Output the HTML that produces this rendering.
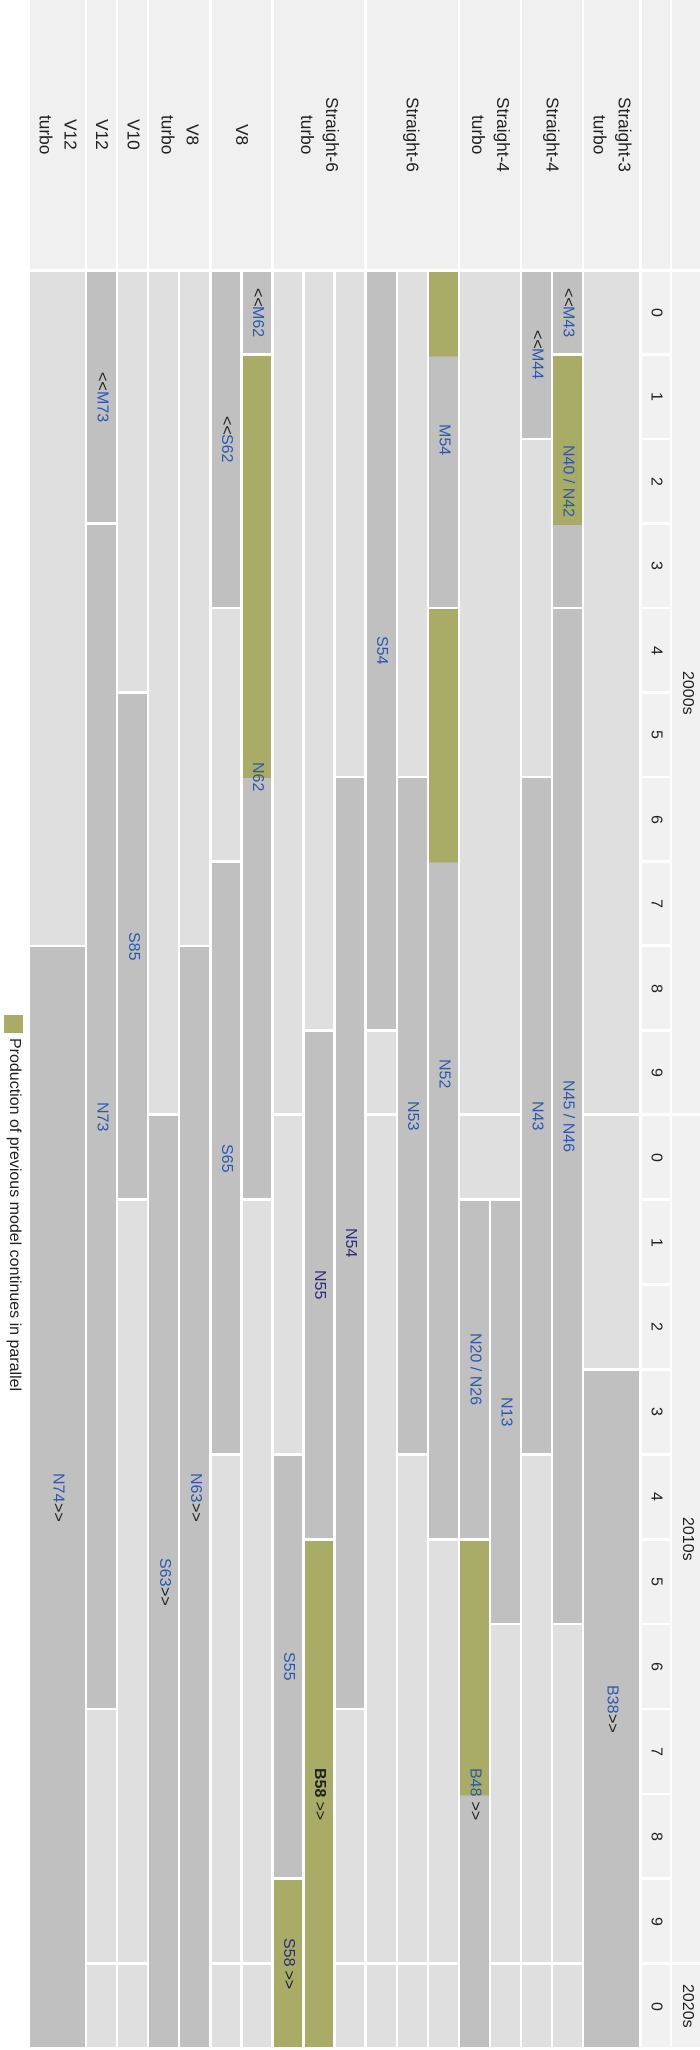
<!DOCTYPE html>
<html><head><meta charset="utf-8">
<style>
html,body{margin:0;padding:0;background:#fff;}
body{width:700px;height:2050px;position:relative;overflow:hidden;font-family:"Liberation Sans",Arial,sans-serif;}
.c{position:absolute;display:flex;align-items:center;justify-content:center;writing-mode:vertical-rl;white-space:nowrap;font-size:16px;line-height:20px;color:#202122;box-sizing:border-box;}
.L{background:#dfdfdf}
.D{background:#c0c0c0}
.O{background:#a8ac66}
.H{background:#f0f0f0;line-height:25px;text-align:center;font-size:17.3px}
.Y{background:#f1f1f1}
.b{color:#2a58ad}
.v{color:#2b2b7a}
.vt{left:30px;width:55px}
.k0{left:87.3px;width:28.8px}
.k1{left:118.35px;width:28.8px}
.k2{left:149.4px;width:28.8px}
.k3{left:180.45px;width:28.8px}
.k4{left:211.5px;width:28.8px}
.k5{left:242.55px;width:28.8px}
.k6{left:273.6px;width:28.8px}
.k7{left:304.65px;width:28.8px}
.k8{left:335.7px;width:28.8px}
.k9{left:366.75px;width:28.8px}
.k10{left:397.8px;width:28.8px}
.k11{left:428.85px;width:28.8px}
.k12{left:459.9px;width:28.8px}
.k13{left:490.95px;width:28.8px}
.k14{left:522px;width:28.8px}
.k15{left:553.05px;width:28.8px}
.s4t{left:459.9px;width:59.85px}
.s3t{left:584.1px;width:55px}
.yr{left:641.5px;width:28px}
.dc{left:672px;width:30px}
.lg{position:absolute;left:4px;top:1015px;width:19px;height:18px;background:#a8ac66}
.lt{position:absolute;left:2px;top:1038px;width:24px;writing-mode:vertical-rl;white-space:nowrap;font-size:16px;line-height:24px;color:#202122}
</style></head><body>

<!-- Header cells -->
<div class="c H vt" style="top:0;height:269px">V12<br>turbo</div>
<div class="c H k0" style="top:0;height:269px">V12</div>
<div class="c H k1" style="top:0;height:269px">V10</div>
<div class="c H" style="left:149.4px;width:59.85px;top:0;height:269px">V8<br>turbo</div>
<div class="c H" style="left:211.5px;width:59.85px;top:0;height:269px">V8</div>
<div class="c H" style="left:273.6px;width:90.9px;top:0;height:269px">Straight-6<br>turbo</div>
<div class="c H" style="left:366.75px;width:90.9px;top:0;height:269px">Straight-6</div>
<div class="c H s4t" style="top:0;height:269px">Straight-4<br>turbo</div>
<div class="c H" style="left:522px;width:59.85px;top:0;height:269px">Straight-4</div>
<div class="c H s3t" style="top:0;height:269px">Straight-3<br>turbo</div>
<div class="c H yr" style="top:0;height:269px"></div>
<div class="c H dc" style="top:0;height:269px"></div>

<!-- V12 turbo -->
<div class="c L vt" style="top:271.5px;height:673px"></div>
<div class="c D vt" style="top:947.1px;height:1100.2px"><span class="b">N74</span>&gt;&gt;</div>

<!-- V12 -->
<div class="c D k0" style="top:271.5px;height:250.8px">&lt;&lt;<span class="b">M73</span></div>
<div class="c D k0" style="top:524.9px;height:1182.8px"><span class="b">N73</span></div>
<div class="c L k0" style="top:1710.3px;height:252.1px"></div>
<div class="c L k0" style="top:1965px;height:82.3px"></div>

<!-- V10 -->
<div class="c L k1" style="top:271.5px;height:419.7px"></div>
<div class="c D k1" style="top:693.8px;height:504.5px"><span class="b">S85</span></div>
<div class="c L k1" style="top:1200.9px;height:761.5px"></div>
<div class="c L k1" style="top:1965px;height:82.3px"></div>

<!-- V8 turbo 1 -->
<div class="c L k2" style="top:271.5px;height:841.9px"></div>
<div class="c D k2" style="top:1116px;height:931.3px"><span class="b">S63</span>&gt;&gt;</div>

<!-- V8 turbo 2 -->
<div class="c L k3" style="top:271.5px;height:673px"></div>
<div class="c D k3" style="top:947.1px;height:1100.2px"><span class="b">N63</span>&gt;&gt;</div>

<!-- V8 1 -->
<div class="c D k4" style="top:271.5px;height:335.2px">&lt;&lt;<span class="b">S62</span></div>
<div class="c L k4" style="top:609.3px;height:250.8px"></div>
<div class="c D k4" style="top:862.7px;height:590.3px"><span class="b">S65</span></div>
<div class="c L k4" style="top:1455.6px;height:506.8px"></div>
<div class="c L k4" style="top:1965px;height:82.3px"></div>

<!-- V8 2 -->
<div class="c D k5" style="top:271.5px;height:81.9px">&lt;&lt;<span class="b">M62</span></div>
<div class="c k5" style="top:356px;height:842.3px;background:linear-gradient(#a8ac66 0,#a8ac66 422.2px,#c0c0c0 422.2px)"><span class="b">N62</span></div>
<div class="c L k5" style="top:1200.9px;height:761.5px"></div>
<div class="c L k5" style="top:1965px;height:82.3px"></div>

<!-- Straight-6 turbo 1 -->
<div class="c L k6" style="top:271.5px;height:841.9px"></div>
<div class="c L k6" style="top:1116px;height:337px"></div>
<div class="c D k6" style="top:1455.6px;height:421.9px"><span class="b">S55</span></div>
<div class="c O k6" style="top:1880.1px;height:167.2px"><span class="v">S58</span>&nbsp;&gt;&gt;</div>

<!-- Straight-6 turbo 2 -->
<div class="c L k7" style="top:271.5px;height:757.5px"></div>
<div class="c D k7" style="top:1031.6px;height:506.3px"><span class="v">N55</span></div>
<div class="c O k7" style="top:1540.5px;height:506.8px"><b>B58</b>&nbsp;&gt;&gt;</div>

<!-- Straight-6 turbo 3 -->
<div class="c L k8" style="top:271.5px;height:504.1px"></div>
<div class="c D k8" style="top:778.2px;height:929.5px"><span class="v">N54</span></div>
<div class="c L k8" style="top:1710.3px;height:252.1px"></div>
<div class="c L k8" style="top:1965px;height:82.3px"></div>

<!-- Straight-6 1 -->
<div class="c D k9" style="top:271.5px;height:757.5px"><span class="b">S54</span></div>
<div class="c L k9" style="top:1031.6px;height:81.8px"></div>
<div class="c L k9" style="top:1116px;height:846.4px"></div>
<div class="c L k9" style="top:1965px;height:82.3px"></div>

<!-- Straight-6 2 -->
<div class="c L k10" style="top:271.5px;height:504.1px"></div>
<div class="c D k10" style="top:778.2px;height:674.8px"><span class="b">N53</span></div>
<div class="c L k10" style="top:1455.6px;height:506.8px"></div>
<div class="c L k10" style="top:1965px;height:82.3px"></div>

<!-- Straight-6 3 -->
<div class="c k11" style="top:271.5px;height:335.2px;background:linear-gradient(#a8ac66 0,#a8ac66 84.5px,#c0c0c0 84.5px)"><span class="b">M54</span></div>
<div class="c k11" style="top:609.3px;height:928.6px;background:linear-gradient(#a8ac66 0,#a8ac66 253.4px,#c0c0c0 253.4px)"><span class="b">N52</span></div>
<div class="c L k11" style="top:1540.5px;height:421.9px"></div>
<div class="c L k11" style="top:1965px;height:82.3px"></div>

<!-- Straight-4 turbo -->
<div class="c L s4t" style="top:271.5px;height:841.9px"></div>
<div class="c L s4t" style="top:1116px;height:82.3px"></div>
<div class="c D k12" style="top:1200.9px;height:337px"><span class="b">N20 / N26</span></div>
<div class="c k12" style="top:1540.5px;height:506.8px;background:linear-gradient(#a8ac66 0,#a8ac66 254.7px,#c0c0c0 254.7px)"><span class="b">B48</span>&nbsp;&gt;&gt;</div>
<div class="c D k13" style="top:1200.9px;height:421.9px"><span class="b">N13</span></div>
<div class="c L k13" style="top:1625.4px;height:337px"></div>
<div class="c L k13" style="top:1965px;height:82.3px"></div>

<!-- Straight-4 1 -->
<div class="c D k14" style="top:271.5px;height:166.3px">&lt;&lt;<span class="b">M44</span></div>
<div class="c L k14" style="top:440.4px;height:335.2px"></div>
<div class="c D k14" style="top:778.2px;height:674.8px"><span class="b">N43</span></div>
<div class="c L k14" style="top:1455.6px;height:506.8px"></div>
<div class="c L k14" style="top:1965px;height:82.3px"></div>

<!-- Straight-4 2 -->
<div class="c D k15" style="top:271.5px;height:81.9px">&lt;&lt;<span class="b">M43</span></div>
<div class="c k15" style="top:356px;height:250.7px;background:linear-gradient(#a8ac66 0,#a8ac66 168.9px,#c0c0c0 168.9px)"><span class="b">N40 / N42</span></div>
<div class="c D k15" style="top:609.3px;height:1013.5px"><span class="b">N45 / N46</span></div>
<div class="c L k15" style="top:1625.4px;height:337px"></div>
<div class="c L k15" style="top:1965px;height:82.3px"></div>

<!-- Straight-3 turbo -->
<div class="c L s3t" style="top:271.5px;height:841.9px"></div>
<div class="c L s3t" style="top:1116px;height:252.1px"></div>
<div class="c D s3t" style="top:1370.7px;height:676.6px"><span class="b">B38</span>&gt;&gt;</div>

<!-- Years -->
<div class="c Y yr" style="top:271.5px;height:81.85px">0</div>
<div class="c Y yr" style="top:355.95px;height:81.85px">1</div>
<div class="c Y yr" style="top:440.4px;height:81.85px">2</div>
<div class="c Y yr" style="top:524.85px;height:81.85px">3</div>
<div class="c Y yr" style="top:609.3px;height:81.85px">4</div>
<div class="c Y yr" style="top:693.75px;height:81.85px">5</div>
<div class="c Y yr" style="top:778.2px;height:81.85px">6</div>
<div class="c Y yr" style="top:862.65px;height:81.85px">7</div>
<div class="c Y yr" style="top:947.1px;height:81.85px">8</div>
<div class="c Y yr" style="top:1031.55px;height:81.85px">9</div>
<div class="c Y yr" style="top:1116px;height:82.3px">0</div>
<div class="c Y yr" style="top:1200.9px;height:82.3px">1</div>
<div class="c Y yr" style="top:1285.8px;height:82.3px">2</div>
<div class="c Y yr" style="top:1370.7px;height:82.3px">3</div>
<div class="c Y yr" style="top:1455.6px;height:82.3px">4</div>
<div class="c Y yr" style="top:1540.5px;height:82.3px">5</div>
<div class="c Y yr" style="top:1625.4px;height:82.3px">6</div>
<div class="c Y yr" style="top:1710.3px;height:82.3px">7</div>
<div class="c Y yr" style="top:1795.2px;height:82.3px">8</div>
<div class="c Y yr" style="top:1880.1px;height:82.3px">9</div>
<div class="c Y yr" style="top:1965px;height:82.3px">0</div>

<!-- Decades -->
<div class="c Y dc" style="top:271.5px;height:841.9px">2000s</div>
<div class="c Y dc" style="top:1116px;height:846.4px">2010s</div>
<div class="c Y dc" style="top:1965px;height:82.3px">2020s</div>

<!-- Legend -->
<div class="lg"></div>
<div class="lt">Production of previous model continues in parallel</div>

</body></html>
